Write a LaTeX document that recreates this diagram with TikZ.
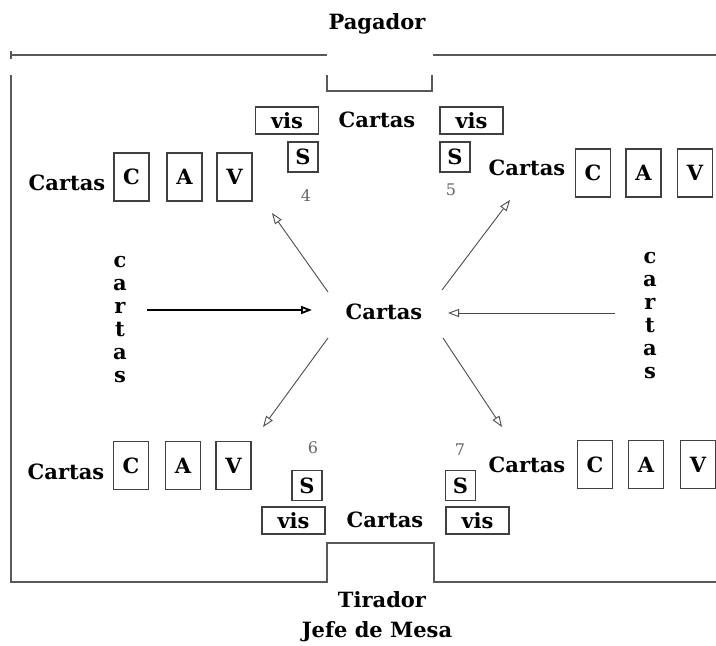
\documentclass[tikz,border=0pt]{standalone}
\usepackage{fontspec}
\setmainfont{DejaVu Serif}
\usetikzlibrary{arrows.meta}
\tikzset{
  lbl/.style={font=\fontsize{21}{23}\selectfont\bfseries, inner sep=0pt},
  num/.style={font=\fontsize{16}{18}\selectfont, text=black!60, inner sep=0pt},
  carta/.style={draw=black!75, line width=1.2pt, minimum width=35pt, minimum height=48pt,
                inner sep=0pt, font=\fontsize{21}{23}\selectfont\bfseries},
  sbox/.style={carta, minimum width=30pt, minimum height=30pt},
  visbox/.style={carta, minimum width=63pt, minimum height=27pt},
  mesa/.style={black!65, line width=1.2pt},
  flecha/.style={black!70, line width=0.9pt, -{Triangle[open,length=11pt,width=8pt]}}
}
\begin{document}
\begin{tikzpicture}[x=1pt,y=-1pt]
    \useasboundingbox (0,0) rectangle (716,646);
    % Mesa
    \node[lbl] (pagador) at (377,24) {Pagador};
    \node[lbl] (tirador) at (382,600) {Tirador};
    \node[lbl] (jefe) at (377,632) {Jefe de Mesa};
    \draw[mesa] (11,51) -- (11,59);
    \draw[mesa] (11,55) -- (327,55);
    \draw[mesa] (433,55) -- (716,55);
    \draw[mesa] (327,75) -- (327,91) -- (432,91) -- (432,75);
    \draw[mesa] (11,75) -- (11,582) -- (327,582) -- (327,543) -- (434,543) -- (434,582) -- (716,582);
    %
    % Jugador 4
    \node[lbl] (cartas4) at (67,183) {Cartas};
    \node[carta] (c4) at (131.5,177) {C};
    \node[carta] (a4) at (184.5,177) {A};
    \node[carta] (v4) at (234.5,177) {V};
    \node[visbox] (vis4) at (287,120.5) {vis};
    \node[sbox] (s4) at (303,157) {S};
    \node[num] (n4) at (306,196) {4};
    % Jugador 5
    \node[visbox] (vis5) at (471.5,120.5) {vis};
    \node[sbox] (s5) at (455,157) {S};
    \node[num] (n5) at (451,190) {5};
    \node[lbl] (cartas5) at (527,168) {Cartas};
    \node[carta] (c5) at (593,173) {C};
    \node[carta] (a5) at (643.5,173) {A};
    \node[carta] (v5) at (695,173) {V};
    % Jugador 6
    \node[lbl] (cartas6) at (66,472) {Cartas};
    \node[carta] (c6) at (131,465.5) {C};
    \node[carta] (a6) at (183,465.5) {A};
    \node[carta] (v6) at (233.5,465.5) {V};
    \node[num] (n6) at (313,448) {6};
    \node[sbox] (s6) at (307,485.5) {S};
    \node[visbox] (vis6) at (293.5,520.5) {vis};
    % Jugador 7
    \node[num] (n7) at (460,450) {7};
    \node[sbox] (s7) at (460.5,485.5) {S};
    \node[visbox] (vis7) at (477.5,520.5) {vis};
    \node[lbl] (cartas7) at (527,465) {Cartas};
    \node[carta] (c7) at (595,464.5) {C};
    \node[carta] (a7) at (646,464.5) {A};
    \node[carta] (v7) at (698,464.5) {V};
    %
    % Cartas en juego
    \node[lbl] (centro) at (384,312) {Cartas};
    \node[lbl] (arriba) at (377,120) {Cartas};
    \node[lbl] (abajo) at (385,520) {Cartas};
    \node[lbl, align=center] (mazoi) at (120,320) {c\\a\\r\\t\\a\\s};
    \node[lbl, align=center] (mazod) at (650,316) {c\\a\\r\\t\\a\\s};
    %
    % Flechas
    \coordinate (li) at (147,310);
    \coordinate (lf) at (312,310);
    \coordinate (ri) at (615,313);
    \coordinate (rf) at (448,313);
    \coordinate (d4i) at (328,292);
    \coordinate (d4f) at (272,213);
    \coordinate (d5i) at (442,290);
    \coordinate (d5f) at (510,200);
    \coordinate (d6i) at (328,338);
    \coordinate (d6f) at (263,427);
    \coordinate (d7i) at (443,338);
    \coordinate (d7f) at (502,427);
    \draw[flecha, black, line width=1.8pt] (li) -- (lf);
    \draw[flecha] (ri) -- (rf);
    \draw[flecha] (d4i) -- (d4f);
    \draw[flecha] (d5i) -- (d5f);
    \draw[flecha] (d6i) -- (d6f);
    \draw[flecha] (d7i) -- (d7f);
\end{tikzpicture}
\end{document}
